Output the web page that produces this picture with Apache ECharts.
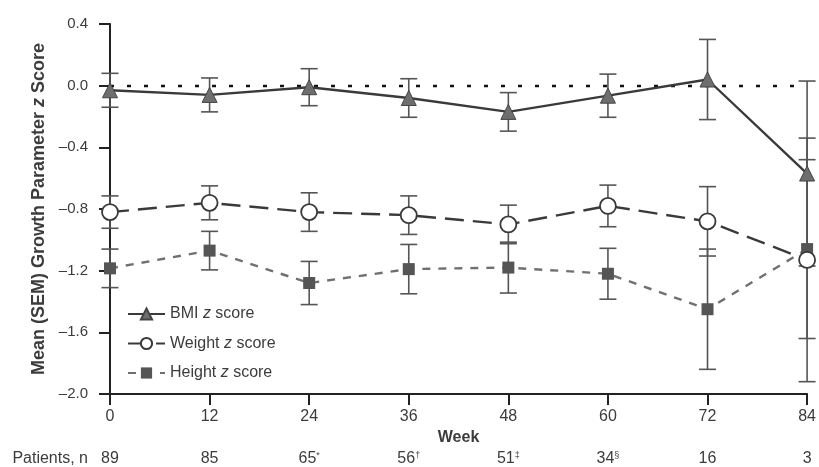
<!DOCTYPE html>
<html>
<head>
<meta charset="utf-8">
<script src="https://cdn.jsdelivr.net/npm/echarts@6/dist/echarts.min.js"></script>
<style>html,body{margin:0;padding:0;background:#fff}#c{width:819px;height:467px}</style>
</head>
<body>
<div id="c"></div>
<script>
const weeks = [0, 12, 24, 36, 48, 60, 72, 84];
const bmi = [-0.03, -0.06, -0.01, -0.08, -0.17, -0.065, 0.04, -0.57];
const bmiSem = [0.11, 0.11, 0.12, 0.125, 0.125, 0.14, 0.26, 0.60];
const weight = [-0.82, -0.76, -0.82, -0.84, -0.90, -0.78, -0.88, -1.13];
const weightSem = [0.105, 0.11, 0.125, 0.125, 0.125, 0.135, 0.225, 0.79];
const heightZ = [-1.185, -1.07, -1.28, -1.19, -1.18, -1.22, -1.45, -1.06];
const heightSem = [0.125, 0.125, 0.14, 0.16, 0.165, 0.165, 0.39, 0.58];
const patients = ['89', '85', '65{s|*}', '56{s|†}', '51{s|‡}', '34{s|§}', '16', '3'];
const yTicks = { min: -2.0, max: 0.4, interval: 0.4 };
const legendNames = { 'BMI': 'BMI {i|z} score', 'Weight': 'Weight {i|z} score', 'Height': 'Height {i|z} score' };

const FONT = 'Liberation Sans, Arial, sans-serif';
const DARK = '#3a3a3a';
const TXT = '#3c3c3c';

function pts(vals) { return weeks.map((w, i) => [w, vals[i]]); }
function errData(vals, sems) { return weeks.map((w, i) => [w, vals[i], sems[i]]); }

function errRender(params, api) {
  const x = api.value(0), y = api.value(1), e = api.value(2);
  const t = api.coord([x, y + e]), b = api.coord([x, y - e]);
  const hw = 8.5;
  const st = { stroke: '#555', lineWidth: 1.6 };
  return {
    type: 'group',
    children: [
      { type: 'line', shape: { x1: t[0], y1: t[1], x2: b[0], y2: b[1] }, style: st },
      { type: 'line', shape: { x1: t[0] - hw, y1: t[1], x2: t[0] + hw, y2: t[1] }, style: st },
      { type: 'line', shape: { x1: b[0] - hw, y1: b[1], x2: b[0] + hw, y2: b[1] }, style: st }
    ]
  };
}

const chart = echarts.init(document.getElementById('c'), null, { renderer: 'canvas' });
chart.setOption({
  animation: false,
  textStyle: { fontFamily: FONT },
  grid: { left: 110, right: 11, top: 24, bottom: 72 },
  legend: {
    orient: 'vertical', left: 122, top: 301, itemGap: 13.5,
    itemWidth: 37, itemHeight: 14,
    data: ['BMI', 'Weight', 'Height'],
    formatter: n => legendNames[n],
    textStyle: {
      fontFamily: FONT, fontSize: 16, color: TXT,
      rich: { i: { fontStyle: 'italic', fontFamily: FONT, fontSize: 16, color: TXT } }
    }
  },
  xAxis: [{
    type: 'value', min: 0, max: 84, interval: 12,
    name: 'Week', nameLocation: 'middle', nameGap: 36,
    nameTextStyle: { fontWeight: 'bold', fontSize: 16, color: TXT, fontFamily: FONT },
    axisLine: { onZero: false, lineStyle: { color: '#222', width: 2 } },
    axisTick: { show: true, length: 11, lineStyle: { color: '#222', width: 2 } },
    axisLabel: { fontSize: 16, color: TXT, margin: 15, fontFamily: FONT },
    splitLine: { show: false }
  }, {
    type: 'value', min: 0, max: 84, interval: 12, position: 'bottom', offset: 57,
    name: 'Patients, n', nameLocation: 'start', nameGap: 22,
    nameTextStyle: { fontSize: 16, color: TXT, fontFamily: FONT, verticalAlign: 'top' },
    axisLine: { show: false, onZero: false }, axisTick: { show: false }, splitLine: { show: false },
    axisLabel: {
      fontSize: 16, color: TXT, margin: 0, fontFamily: FONT,
      formatter: v => patients[weeks.indexOf(v)],
      rich: { s: { fontSize: 9, color: TXT, verticalAlign: 'top', padding: [0, 0, 7, 0] } }
    }
  }],
  yAxis: {
    type: 'value', min: yTicks.min, max: yTicks.max, interval: yTicks.interval,
    name: 'Mean (SEM) Growth Parameter {i|z} Score', nameLocation: 'middle', nameGap: 55,
    nameTextStyle: {
      fontWeight: 'bold', fontSize: 18, color: TXT, fontFamily: FONT,
      rich: { i: { fontStyle: 'italic', fontWeight: 'bold', fontSize: 18, color: TXT, fontFamily: FONT } }
    },
    axisLine: { show: true, lineStyle: { color: '#222', width: 2 } },
    axisTick: { show: true, length: 11, lineStyle: { color: '#222', width: 2 } },
    axisLabel: { fontSize: 15, color: TXT, margin: 22, fontFamily: FONT,
      formatter: v => v.toFixed(1).replace('-', '\u2013') },
    splitLine: { show: false }
  },
  series: [
    { type: 'custom', name: 'errBmi', renderItem: errRender, data: errData(bmi, bmiSem), z: 1, silent: true },
    { type: 'custom', name: 'errWeight', renderItem: errRender, data: errData(weight, weightSem), z: 1, silent: true },
    { type: 'custom', name: 'errHeight', renderItem: errRender, data: errData(heightZ, heightSem), z: 1, silent: true },
    {
      type: 'line', name: 'Height', data: pts(heightZ), z: 2,
      symbol: 'rect', symbolSize: 12,
      lineStyle: { color: '#707070', width: 2.4, type: [8, 8] },
      itemStyle: { color: '#555', borderColor: '#555', borderWidth: 0 }
    },
    {
      type: 'line', name: 'Weight', data: pts(weight), z: 3,
      symbol: 'circle', symbolSize: 16,
      lineStyle: { color: DARK, width: 2.4, type: [19, 9] },
      itemStyle: { color: '#fff', borderColor: DARK, borderWidth: 1.8 }
    },
    {
      type: 'line', name: 'BMI', data: pts(bmi), z: 4,
      symbol: 'triangle', symbolSize: 15,
      lineStyle: { color: DARK, width: 2.4 },
      itemStyle: { color: '#6e6e6e', borderColor: '#444', borderWidth: 1 },
      markLine: {
        silent: true, symbol: 'none', label: { show: false }, z: 1,
        lineStyle: { color: '#111', width: 2.4, type: [4, 13] },
        data: [{ yAxis: 0 }]
      }
    }
  ]
});
</script>
</body>
</html>
